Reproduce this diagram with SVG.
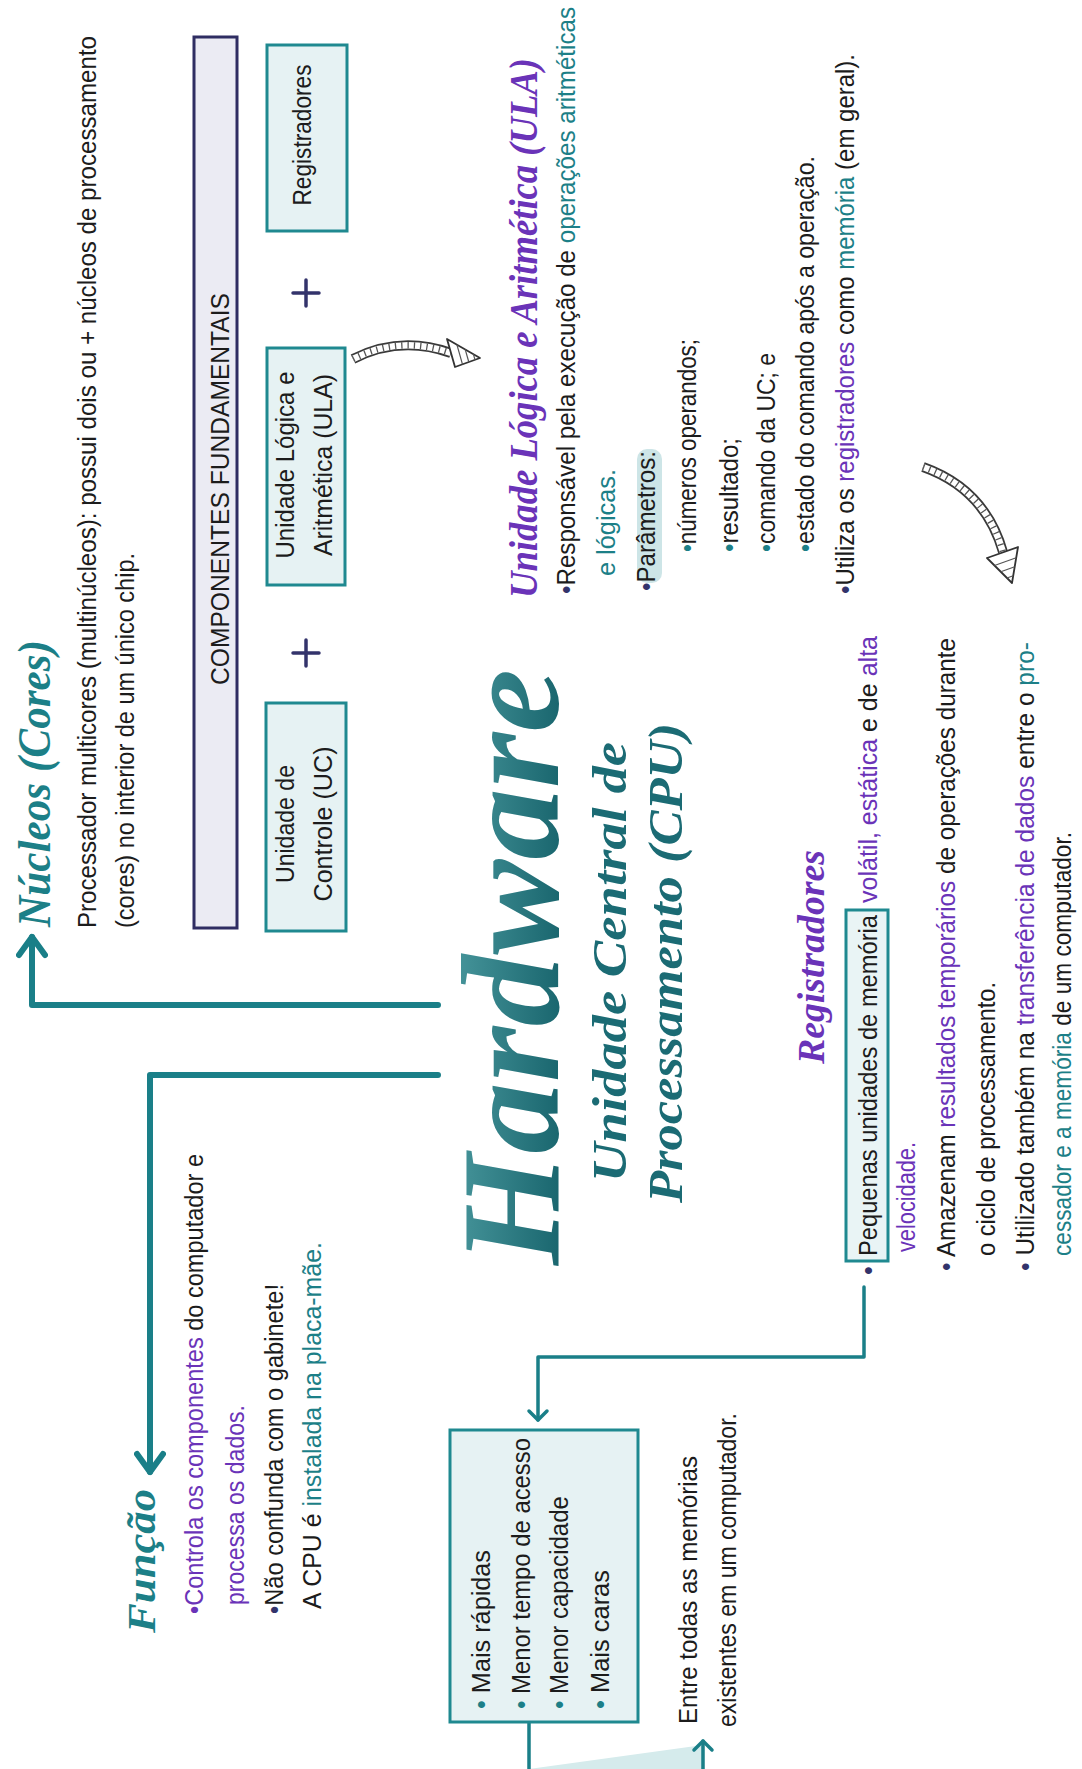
<svg xmlns="http://www.w3.org/2000/svg" width="1082" height="1769" viewBox="0 0 1082 1769">
<defs>
<style>
.t{font-family:"Liberation Sans",Arial,sans-serif;font-size:25px;fill:#1c1c1c}
.h{font-family:"Liberation Serif","Times New Roman",serif;font-style:italic;font-weight:bold}
.pu{fill:#6a33b8}
.tl{fill:#1c7f87}
.nv{fill:#33336b}
.box{fill:#e6f2f3;stroke:#1f8990;stroke-width:3}
.conn{fill:none;stroke:#1a7f88;stroke-linecap:round;stroke-linejoin:round}
.plus{stroke:#33336b;stroke-width:3.5;stroke-linecap:round}
.rib1{fill:none;stroke:#3a3a3a;stroke-width:10;stroke-linecap:butt}
.rib2{fill:none;stroke:#ffffff;stroke-width:6.5}
.rib3{fill:none;stroke:#555555;stroke-width:6.5;stroke-dasharray:1.3 5}
.head{fill:#ffffff;stroke:#333333;stroke-width:1.8;stroke-linejoin:round}
.hatch{stroke:#555555;stroke-width:1.2}
</style>
<linearGradient id="hw" x1="0" y1="0" x2="0" y2="1">
<stop offset="0" stop-color="#4f9ea3"/>
<stop offset="1" stop-color="#0e5a63"/>
</linearGradient>
<marker id="ahL" viewBox="-24 -16 28 32" refX="0" refY="0" markerWidth="28" markerHeight="32" orient="auto" markerUnits="userSpaceOnUse">
<path d="M-18,-13 L0,0 L-18,13" fill="none" stroke="#1a7f88" stroke-width="6" stroke-linecap="round" stroke-linejoin="round"/>
</marker>
<marker id="ahS" viewBox="-14 -12 18 24" refX="0" refY="0" markerWidth="18" markerHeight="24" orient="auto" markerUnits="userSpaceOnUse">
<path d="M-9,-9 L0,0 L-9,9" fill="none" stroke="#1a7f88" stroke-width="3.5" stroke-linecap="round" stroke-linejoin="round"/>
</marker>
</defs>
<rect x="0" y="0" width="1082" height="1769" fill="#ffffff"/>
<g transform="translate(0,1769) rotate(-90)">

<g id="connectors">
<polygon points="0,529 24,703 0,703" fill="#d5ebec"/>
<path class="conn" stroke-width="6" d="M764,438 L764,32 L832,32" marker-end="url(#ahL)"/>
<path class="conn" stroke-width="6" d="M694,438 L694,150 L297,150" marker-end="url(#ahL)"/>
<path class="conn" stroke-width="3.5" d="M482,864 L412,864 L412,538 L349,538" marker-end="url(#ahS)"/>
<path class="conn" stroke-width="3.5" d="M47,529 L-4,529 L-4,703 L28,703" marker-end="url(#ahS)"/>
<g id="sketch-arrow-1">
<path class="rib1" d="M1410,353 Q1434,400 1416,451"/>
<path class="rib2" d="M1410,353 Q1434,400 1416,451"/>
<path class="rib3" d="M1410,353 Q1434,400 1416,451"/>
<polygon class="head" points="1430,447 1402,455 1411,480"/>
<line class="hatch" x1="1424.3" y1="456.9" x2="1404.7" y2="462.5"/>
<line class="hatch" x1="1419.6" y1="465.2" x2="1407" y2="468.8"/>
<line class="hatch" x1="1414.8" y1="473.4" x2="1409.2" y2="475"/>
</g>
<g id="sketch-arrow-2">
<path class="rib1" d="M1302,923 Q1280,985 1217,1003"/>
<path class="rib2" d="M1302,923 Q1280,985 1217,1003"/>
<path class="rib3" d="M1302,923 Q1280,985 1217,1003"/>
<polygon class="head" points="1211,987 1222,1018 1186,1012"/>
<line class="hatch" x1="1203.5" y1="994.5" x2="1211.2" y2="1016.2"/>
<line class="hatch" x1="1197.3" y1="1000.8" x2="1202.2" y2="1014.7"/>
<line class="hatch" x1="1191" y1="1007" x2="1193.2" y2="1013.2"/>
</g>
</g>

<g id="nucleos">
<text class="h tl" x="842" y="50" font-size="46" textLength="287" lengthAdjust="spacingAndGlyphs">Núcleos (Cores)</text>
<text class="t" x="841" y="96" textLength="892" lengthAdjust="spacingAndGlyphs">Processador multicores (multinúcleos): possui dois ou + núcleos de processamento</text>
<text class="t" x="841" y="134" textLength="375" lengthAdjust="spacingAndGlyphs">(cores) no interior de um único chip.</text>
</g>

<g id="componentes">
<rect x="841" y="194" width="891" height="43" fill="#ebebf3" stroke="#2f2d62" stroke-width="3"/>
<text class="t" x="1280" y="229" font-size="33" text-anchor="middle" textLength="392" lengthAdjust="spacingAndGlyphs">COMPONENTES FUNDAMENTAIS</text>
</g>

<g id="uc">
<rect class="box" x="838" y="266" width="228" height="80"/>
<text class="t" x="945" y="294" text-anchor="middle" textLength="118" lengthAdjust="spacingAndGlyphs">Unidade de</text>
<text class="t" x="945" y="332" text-anchor="middle" textLength="155" lengthAdjust="spacingAndGlyphs">Controle (UC)</text>
</g>

<g id="plus-1">
<line class="plus" x1="1103" y1="306" x2="1129" y2="306"/>
<line class="plus" x1="1116" y1="293" x2="1116" y2="319"/>
</g>

<g id="ula-box">
<rect class="box" x="1184" y="267" width="237" height="78"/>
<text class="t" x="1304" y="294" text-anchor="middle" textLength="187" lengthAdjust="spacingAndGlyphs">Unidade Lógica e</text>
<text class="t" x="1304" y="332" text-anchor="middle" textLength="182" lengthAdjust="spacingAndGlyphs">Aritmética (ULA)</text>
</g>

<g id="plus-2">
<line class="plus" x1="1463" y1="306" x2="1489" y2="306"/>
<line class="plus" x1="1476" y1="293" x2="1476" y2="319"/>
</g>

<g id="registradores-box">
<rect class="box" x="1538" y="267" width="186" height="80"/>
<text class="t" x="1634" y="311" text-anchor="middle" textLength="141" lengthAdjust="spacingAndGlyphs">Registradores</text>
</g>

<g id="ula">
<text class="h pu" x="1171" y="537" font-size="40" textLength="540" lengthAdjust="spacingAndGlyphs">Unidade Lógica e Aritmética (ULA)</text>
<text class="t" x="1175" y="575" textLength="587" lengthAdjust="spacingAndGlyphs"><tspan class="nv">•</tspan>Responsável pela execução de <tspan class="tl">operações aritméticas</tspan></text>
<text class="t tl" x="1193" y="615" textLength="107" lengthAdjust="spacingAndGlyphs">e lógicas.</text>
<rect x="1186" y="637" width="134" height="25" rx="10" fill="#cde5e7"/>
<text class="t" x="1178" y="655" textLength="140" lengthAdjust="spacingAndGlyphs"><tspan class="nv">•</tspan>Parâmetros:</text>
<text class="t" x="1217" y="696" textLength="213" lengthAdjust="spacingAndGlyphs"><tspan class="tl">•</tspan>números operandos;</text>
<text class="t" x="1217" y="738" textLength="114" lengthAdjust="spacingAndGlyphs"><tspan class="tl">•</tspan>resultado;</text>
<text class="t" x="1217" y="775" textLength="199" lengthAdjust="spacingAndGlyphs"><tspan class="tl">•</tspan>comando da UC; e</text>
<text class="t" x="1217" y="814" textLength="396" lengthAdjust="spacingAndGlyphs"><tspan class="tl">•</tspan>estado do comando após a operação.</text>
<text class="t" x="1175" y="854" textLength="540" lengthAdjust="spacingAndGlyphs"><tspan class="nv">•</tspan>Utiliza os <tspan class="pu">registradores</tspan> como <tspan class="tl">memória</tspan> (em geral).</text>
</g>

<g id="hardware">
<text class="h" x="504" y="558" font-size="140" fill="url(#hw)" textLength="596" lengthAdjust="spacingAndGlyphs">Hardware</text>
<text class="h" x="587" y="626" font-size="48" fill="#1b6b74" textLength="440" lengthAdjust="spacingAndGlyphs">Unidade Central de</text>
<text class="h" x="566" y="682" font-size="48" fill="#1b6b74" textLength="480" lengthAdjust="spacingAndGlyphs">Processamento (CPU)</text>
</g>

<g id="funcao">
<text class="h tl" x="136" y="155" font-size="40" textLength="144" lengthAdjust="spacingAndGlyphs">Função</text>
<text class="t" x="155" y="203" textLength="460" lengthAdjust="spacingAndGlyphs"><tspan class="pu">•Controla os componentes</tspan> do computador e</text>
<text class="t pu" x="164" y="244" textLength="200" lengthAdjust="spacingAndGlyphs">processa os dados.</text>
<text class="t" x="155" y="283" textLength="330" lengthAdjust="spacingAndGlyphs"><tspan class="nv">•</tspan>Não confunda com o gabinete!</text>
<text class="t" x="160" y="321" textLength="367" lengthAdjust="spacingAndGlyphs">A CPU é <tspan class="tl">instalada na placa-mãe.</tspan></text>
</g>

<g id="registradores">
<text class="h pu" x="705" y="824" font-size="38" textLength="214" lengthAdjust="spacingAndGlyphs">Registradores</text>
<text class="t nv" x="494" y="877">•</text>
<rect x="508" y="846" width="351" height="42" fill="#e9f4f5" stroke="#1f8990" stroke-width="3"/>
<text class="t" x="513" y="877" textLength="341" lengthAdjust="spacingAndGlyphs">Pequenas unidades de memória</text>
<text class="t" x="866" y="877" textLength="267" lengthAdjust="spacingAndGlyphs"><tspan class="pu">volátil, estática</tspan> e de <tspan class="pu">alta</tspan></text>
<text class="t pu" x="517" y="915" textLength="110" lengthAdjust="spacingAndGlyphs">velocidade.</text>
<text class="t" x="498" y="955" textLength="633" lengthAdjust="spacingAndGlyphs"><tspan class="nv">•</tspan> Amazenam <tspan class="pu">resultados temporários</tspan> de operações durante</text>
<text class="t" x="513" y="995" textLength="274" lengthAdjust="spacingAndGlyphs">o ciclo de processamento.</text>
<text class="t" x="498" y="1034" textLength="629" lengthAdjust="spacingAndGlyphs"><tspan class="nv">•</tspan> Utilizado também na <tspan class="pu">transferência de dados</tspan> entre o <tspan class="tl">pro-</tspan></text>
<text class="t" x="513" y="1071" textLength="424" lengthAdjust="spacingAndGlyphs"><tspan class="tl">cessador e a memória</tspan> de um computador.</text>
</g>

<g id="caracteristicas">
<rect class="box" x="47" y="450" width="292" height="188"/>
<text class="t" x="60" y="490" textLength="159" lengthAdjust="spacingAndGlyphs"><tspan class="tl">•</tspan> Mais rápidas</text>
<text class="t" x="60" y="530" textLength="271" lengthAdjust="spacingAndGlyphs"><tspan class="tl">•</tspan> Menor tempo de acesso</text>
<text class="t" x="60" y="568" textLength="213" lengthAdjust="spacingAndGlyphs"><tspan class="tl">•</tspan> Menor capacidade</text>
<text class="t" x="60" y="609" textLength="139" lengthAdjust="spacingAndGlyphs"><tspan class="tl">•</tspan> Mais caras</text>
</g>

<g id="entre">
<text class="t" x="45" y="697" textLength="268" lengthAdjust="spacingAndGlyphs">Entre todas as memórias</text>
<text class="t" x="42" y="736" textLength="314" lengthAdjust="spacingAndGlyphs">existentes em um computador.</text>
</g>

</g>
</svg>
